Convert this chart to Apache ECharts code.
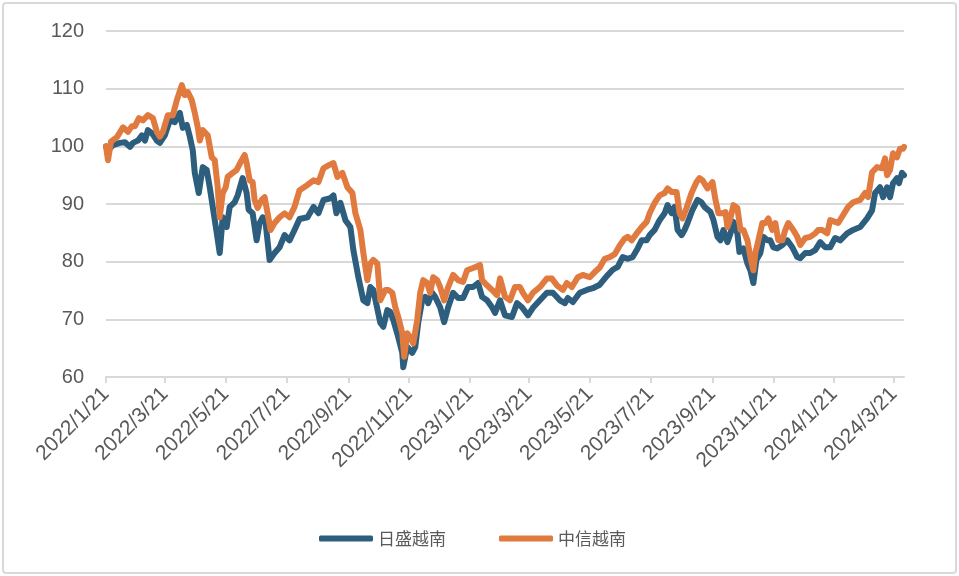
<!DOCTYPE html>
<html>
<head>
<meta charset="utf-8">
<script src="https://cdn.jsdelivr.net/npm/echarts@6/dist/echarts.min.js"></script>
<style>
html,body{margin:0;padding:0;background:#fff;}
#wrap{position:relative;width:959px;height:576px;}
#c{position:absolute;left:0;top:0;width:959px;height:576px;}
#frame{position:absolute;left:2px;top:2px;width:951px;height:568px;border:2px solid #d9d9d9;border-radius:4px;pointer-events:none;}
</style>
</head>
<body>
<div id="wrap"><div id="c"></div><div id="frame"></div></div>
<script>
const seriesNames = ['日盛越南', '中信越南'];
const tickLabels = ['2022/1/21','2022/3/21','2022/5/21','2022/7/21','2022/9/21','2022/11/21','2023/1/21','2023/3/21','2023/5/21','2023/7/21','2023/9/21','2023/11/21','2024/1/21','2024/3/21'];
const axisStart = '2022/1/21';
const axisEnd = '2024/3/31';

const rishengData = [
['2022-01-21',100.0],['2022-01-23',99.3],['2022-01-28',100.2],['2022-02-04',100.6],['2022-02-09',100.7],['2022-02-14',99.9],
['2022-02-17',100.6],['2022-02-22',101.0],['2022-02-26',101.9],['2022-03-01',101.0],['2022-03-04',102.8],['2022-03-08',102.3],
['2022-03-13',101.0],['2022-03-16',100.6],['2022-03-21',101.9],['2022-03-26',104.5],['2022-03-31',104.2],['2022-04-05',105.8],
['2022-04-08',103.2],['2022-04-12',103.7],['2022-04-15',101.7],['2022-04-18',99.3],['2022-04-20',95.4],['2022-04-24',91.9],
['2022-04-28',96.4],['2022-05-02',95.9],['2022-05-05',92.9],['2022-05-08',89.5],['2022-05-12',85.0],['2022-05-15',81.5],
['2022-05-18',87.7],['2022-05-22',86.0],['2022-05-25',89.5],['2022-05-30',90.3],['2022-06-02',91.5],['2022-06-07',94.5],
['2022-06-11',91.9],['2022-06-13',89.0],['2022-06-17',88.4],['2022-06-21',83.7],['2022-06-24',86.7],['2022-06-27',87.7],
['2022-06-30',86.7],['2022-07-04',80.3],['2022-07-09',81.5],['2022-07-14',82.5],['2022-07-19',84.6],['2022-07-24',83.7],
['2022-07-29',85.5],['2022-08-03',87.4],['2022-08-11',87.7],['2022-08-17',89.5],['2022-08-22',88.4],['2022-08-27',90.7],
['2022-09-03',91.0],['2022-09-06',91.5],['2022-09-09',88.4],['2022-09-13',90.2],['2022-09-18',87.2],['2022-09-23',86.0],
['2022-09-26',82.0],['2022-10-01',77.3],['2022-10-06',73.3],['2022-10-10',72.8],['2022-10-13',75.6],['2022-10-16',75.1],
['2022-10-23',69.4],['2022-10-26',68.7],['2022-10-30',71.6],['2022-11-02',71.3],['2022-11-05',69.9],['2022-11-10',66.9],
['2022-11-14',64.2],['2022-11-15',61.7],['2022-11-19',65.2],['2022-11-24',64.2],['2022-11-27',65.2],['2022-11-30',69.4],
['2022-12-04',73.3],['2022-12-07',73.9],['2022-12-10',72.8],['2022-12-14',74.6],['2022-12-17',73.9],['2022-12-22',72.1],
['2022-12-26',69.5],['2022-12-30',72.1],['2023-01-04',74.6],['2023-01-09',73.7],['2023-01-14',73.7],['2023-01-19',75.6],
['2023-01-24',75.6],['2023-01-29',76.3],['2023-02-02',73.9],['2023-02-07',73.3],['2023-02-12',72.1],['2023-02-15',71.1],
['2023-02-20',73.3],['2023-02-25',70.7],['2023-03-04',70.4],['2023-03-09',72.8],['2023-03-14',72.1],['2023-03-20',70.7],
['2023-03-25',72.0],['2023-04-01',73.3],['2023-04-08',74.6],['2023-04-14',74.6],['2023-04-21',73.3],['2023-04-26',72.8],
['2023-04-29',73.7],['2023-05-04',73.0],['2023-05-11',74.6],['2023-05-18',75.1],['2023-05-24',75.4],['2023-05-31',76.0],
['2023-06-07',77.5],['2023-06-13',78.6],['2023-06-18',79.1],['2023-06-23',80.8],['2023-06-28',80.5],['2023-07-03',80.8],
['2023-07-08',82.3],['2023-07-12',83.7],['2023-07-17',83.7],['2023-07-20',84.6],['2023-07-25',85.5],['2023-07-30',87.2],
['2023-08-04',88.4],['2023-08-07',89.8],['2023-08-11',88.4],['2023-08-14',89.5],['2023-08-17',85.5],['2023-08-21',84.6],
['2023-08-24',85.5],['2023-08-27',86.7],['2023-09-01',89.0],['2023-09-06',90.7],['2023-09-10',90.3],['2023-09-13',89.5],
['2023-09-19',88.6],['2023-09-22',87.2],['2023-09-26',84.3],['2023-09-29',83.7],['2023-10-02',85.5],['2023-10-06',83.4],
['2023-10-09',84.9],['2023-10-12',86.9],['2023-10-16',84.9],['2023-10-18',81.7],['2023-10-22',82.3],['2023-10-26',79.7],
['2023-10-29',78.5],['2023-11-01',76.3],['2023-11-04',80.3],['2023-11-08',81.5],['2023-11-11',84.3],['2023-11-15',83.7],
['2023-11-18',83.7],['2023-11-21',82.5],['2023-11-25',82.3],['2023-11-30',82.9],['2023-12-05',83.7],['2023-12-10',82.5],
['2023-12-15',80.8],['2023-12-18',80.6],['2023-12-23',81.5],['2023-12-28',81.5],['2024-01-02',82.0],['2024-01-07',83.4],
['2024-01-12',82.5],['2024-01-17',82.5],['2024-01-22',84.1],['2024-01-27',83.7],['2024-02-03',84.9],['2024-02-09',85.5],
['2024-02-16',86.0],['2024-02-23',87.5],['2024-02-25',87.2],['2024-02-28',88.9],['2024-03-02',91.9],['2024-03-07',92.9],
['2024-03-10',91.2],['2024-03-14',92.9],['2024-03-17',91.2],['2024-03-20',93.6],['2024-03-24',94.5],['2024-03-26',93.6],
['2024-03-29',95.4],['2024-03-31',95.0]
];

const zhongxinData = [
['2022-01-21',100.0],['2022-01-23',97.6],['2022-01-26',100.8],['2022-02-01',101.6],['2022-02-07',103.3],['2022-02-12',102.5],
['2022-02-16',103.5],['2022-02-19',103.5],['2022-02-23',104.9],['2022-02-27',104.5],['2022-03-04',105.4],['2022-03-09',104.9],
['2022-03-13',102.5],['2022-03-16',101.7],['2022-03-19',102.5],['2022-03-24',105.4],['2022-03-29',105.4],['2022-04-02',108.0],
['2022-04-07',110.6],['2022-04-10',108.9],['2022-04-13',109.4],['2022-04-17',108.0],['2022-04-20',105.8],['2022-04-23',103.3],
['2022-04-25',101.0],['2022-04-28',102.8],['2022-05-03',101.9],['2022-05-07',98.1],['2022-05-10',97.6],['2022-05-13',92.9],
['2022-05-15',87.7],['2022-05-18',91.9],['2022-05-21',92.9],['2022-05-23',94.7],['2022-05-28',95.4],['2022-06-01',95.9],
['2022-06-06',97.6],['2022-06-09',98.5],['2022-06-11',97.1],['2022-06-14',94.1],['2022-06-17',93.8],['2022-06-19',90.7],
['2022-06-22',89.3],['2022-06-26',90.7],['2022-06-29',91.2],['2022-07-02',88.4],['2022-07-05',85.5],['2022-07-09',86.7],
['2022-07-14',87.7],['2022-07-19',88.4],['2022-07-24',87.7],['2022-07-29',89.5],['2022-08-03',92.4],['2022-08-11',93.3],
['2022-08-17',94.1],['2022-08-22',93.8],['2022-08-27',96.2],['2022-09-01',96.7],['2022-09-06',97.1],['2022-09-10',94.7],
['2022-09-15',95.4],['2022-09-20',92.9],['2022-09-25',91.9],['2022-09-28',88.4],['2022-10-03',85.5],['2022-10-06',81.5],
['2022-10-10',76.8],['2022-10-13',79.7],['2022-10-16',80.3],['2022-10-20',79.7],['2022-10-23',73.3],['2022-10-28',75.1],
['2022-10-31',75.1],['2022-11-04',74.6],['2022-11-07',72.1],['2022-11-10',70.4],['2022-11-14',67.6],['2022-11-16',63.5],
['2022-11-19',67.6],['2022-11-22',66.9],['2022-11-25',65.8],['2022-11-29',69.9],['2022-12-02',74.6],['2022-12-05',76.8],
['2022-12-09',76.3],['2022-12-12',74.6],['2022-12-15',77.3],['2022-12-19',76.8],['2022-12-22',75.6],['2022-12-26',73.3],
['2022-12-30',75.6],['2023-01-04',77.7],['2023-01-09',76.8],['2023-01-14',76.5],['2023-01-18',78.5],['2023-01-24',78.9],
['2023-01-31',79.4],['2023-02-02',76.8],['2023-02-07',75.9],['2023-02-12',75.1],['2023-02-17',74.2],['2023-02-20',77.1],
['2023-02-25',73.9],['2023-03-02',73.3],['2023-03-07',75.6],['2023-03-12',75.6],['2023-03-15',74.6],['2023-03-20',73.3],
['2023-03-25',74.6],['2023-04-01',75.6],['2023-04-08',77.1],['2023-04-13',77.1],['2023-04-18',75.9],['2023-04-24',75.1],
['2023-04-28',76.3],['2023-05-03',75.6],['2023-05-09',77.3],['2023-05-14',77.7],['2023-05-21',77.3],['2023-05-26',78.2],
['2023-05-31',79.0],['2023-06-05',80.5],['2023-06-10',80.8],['2023-06-15',81.3],['2023-06-20',82.8],['2023-06-25',84.0],
['2023-06-28',84.3],['2023-07-02',83.7],['2023-07-07',84.9],['2023-07-12',86.0],['2023-07-17',86.9],['2023-07-20',88.4],
['2023-07-25',90.2],['2023-07-30',91.5],['2023-08-04',91.9],['2023-08-07',92.7],['2023-08-11',92.1],['2023-08-16',92.1],
['2023-08-19',88.4],['2023-08-22',87.5],['2023-08-26',89.3],['2023-08-31',91.9],['2023-09-05',93.8],['2023-09-08',94.5],
['2023-09-11',94.1],['2023-09-16',92.7],['2023-09-21',93.8],['2023-09-24',90.7],['2023-09-27',88.4],['2023-10-01',88.4],
['2023-10-04',88.6],['2023-10-06',86.0],['2023-10-09',87.5],['2023-10-12',89.8],['2023-10-16',89.3],['2023-10-19',85.5],
['2023-10-22',85.5],['2023-10-26',83.7],['2023-10-29',80.8],['2023-11-01',78.5],['2023-11-03',81.5],['2023-11-06',83.7],
['2023-11-10',86.7],['2023-11-13',86.7],['2023-11-16',87.5],['2023-11-20',85.5],['2023-11-23',86.7],['2023-11-26',83.7],
['2023-11-30',83.7],['2023-12-03',85.5],['2023-12-06',86.7],['2023-12-11',85.5],['2023-12-15',84.3],['2023-12-18',82.9],
['2023-12-23',84.1],['2023-12-28',84.3],['2024-01-02',84.9],['2024-01-05',85.5],['2024-01-09',85.5],['2024-01-14',84.9],
['2024-01-17',87.2],['2024-01-22',86.9],['2024-01-25',86.7],['2024-01-30',88.1],['2024-02-04',89.5],['2024-02-09',90.3],
['2024-02-16',90.7],['2024-02-21',91.9],['2024-02-24',91.2],['2024-02-28',95.5],['2024-03-04',96.4],['2024-03-09',96.2],
['2024-03-12',97.9],['2024-03-14',95.0],['2024-03-17',95.9],['2024-03-20',98.8],['2024-03-24',98.1],['2024-03-27',99.6],
['2024-03-30',99.6],['2024-03-31',99.9]
];

const colors = ['#2D5E7E', '#E07A3E'];

function toTime(s) {
  const p = s.split(/[\/-]/).map(Number);
  return Date.UTC(p[0], p[1] - 1, p[2]);
}
const tickTimes = tickLabels.map(toTime);
const toPairs = arr => arr.map(d => [toTime(d[0]), d[1]]);

const chart = echarts.init(document.getElementById('c'), null, { renderer: 'canvas' });
const labelColor = '#595959';
chart.setOption({
  animation: false,
  backgroundColor: '#ffffff',
  color: colors,
  grid: { left: 106, right: 55, top: 31, bottom: 199, containLabel: false },
  legend: {
    data: seriesNames,
    left: 314,
    top: 525,
    icon: 'roundRect',
    itemWidth: 54,
    itemHeight: 6,
    itemGap: 53,
    textStyle: { fontSize: 17, color: labelColor, fontFamily: '"Noto Sans CJK SC", sans-serif' }
  },
  xAxis: {
    type: 'value',
    min: toTime(axisStart),
    max: toTime(axisEnd),
    axisLine: { show: true, lineStyle: { color: '#d9d9d9', width: 2 } },
    axisTick: { show: true, customValues: tickTimes, length: 6, lineStyle: { color: '#d9d9d9', width: 2 } },
    splitLine: { show: false },
    axisLabel: {
      customValues: tickTimes,
      rotate: 45,
      fontSize: 21,
      color: labelColor,
      margin: 14,
      fontFamily: '"Liberation Sans", Arial, sans-serif',
      formatter: function (v) {
        const i = tickTimes.indexOf(v);
        return i >= 0 ? tickLabels[i] : '';
      }
    }
  },
  yAxis: {
    type: 'value',
    min: 60,
    max: 120,
    interval: 10,
    axisLine: { show: false },
    axisTick: { show: false },
    splitLine: { lineStyle: { color: '#d9d9d9', width: 2 } },
    axisLabel: { fontSize: 20, color: labelColor, margin: 22, fontFamily: '"Liberation Sans", Arial, sans-serif' }
  },
  series: [
    { name: seriesNames[0], type: 'line', data: toPairs(rishengData), showSymbol: false, symbol: 'none',
      lineStyle: { width: 6, color: colors[0], join: 'round', cap: 'round' }, z: 2 },
    { name: seriesNames[1], type: 'line', data: toPairs(zhongxinData), showSymbol: false, symbol: 'none',
      lineStyle: { width: 6, color: colors[1], join: 'round', cap: 'round' }, z: 3 }
  ]
});
</script>
</body>
</html>
